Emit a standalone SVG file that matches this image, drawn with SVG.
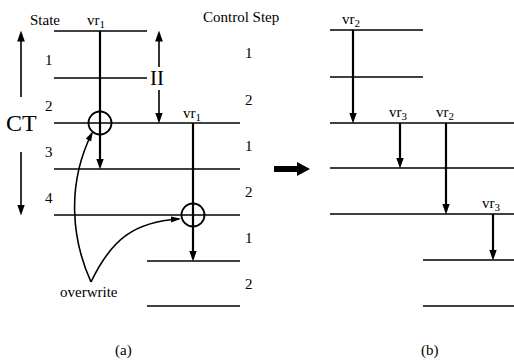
<svg xmlns="http://www.w3.org/2000/svg" width="514" height="362" viewBox="0 0 514 362" font-family="'Liberation Serif', 'DejaVu Serif', serif">
<defs>
<style>
text{font-family:"Liberation Serif","DejaVu Serif",serif;fill:#000}
.t{font-size:15px}
.s{font-size:11px}
.h{stroke:#000;stroke-width:1.3;fill:none}
.v{stroke:#000;stroke-width:2.2;fill:none}
.a{stroke:#000;stroke-width:1.6;fill:none}
.c{stroke:#000;stroke-width:1.8;fill:none}
</style>
<marker id="ah" markerUnits="userSpaceOnUse" markerWidth="11" markerHeight="11" viewBox="0 0 10 10" refX="5" refY="5" orient="auto">
<path d="M0,1.5 L10,5 L0,8.5 z" fill="#000"/>
</marker>
<marker id="ah2" markerUnits="userSpaceOnUse" markerWidth="10" markerHeight="10" viewBox="0 0 10 10" refX="8" refY="5" orient="auto">
<path d="M0,2 L10,5 L0,8 z" fill="#000"/>
</marker>
</defs>
<rect width="514" height="362" fill="#fff"/>

<g id="headers">
<text class="t" x="30" y="25">State</text>
<text class="t" x="203" y="22">Control Step</text>
</g>

<g id="state-labels">
<text class="t" x="45" y="65">1</text>
<text class="t" x="45" y="111">2</text>
<text class="t" x="45" y="157">3</text>
<text class="t" x="45" y="203">4</text>
<text x="6" y="131" style="font-size:24px">CT</text>
</g>

<g id="step-labels">
<text class="t" x="245" y="58">1</text>
<text class="t" x="245" y="105">2</text>
<text class="t" x="245" y="151">1</text>
<text class="t" x="245" y="197">2</text>
<text class="t" x="245" y="243">1</text>
<text class="t" x="245" y="289">2</text>
</g>

<g id="grid-a">
<line class="h" x1="54" y1="31" x2="147" y2="31"/>
<line class="h" x1="54" y1="78" x2="147" y2="78"/>
<line class="h" x1="54" y1="123" x2="240" y2="123"/>
<line class="h" x1="54" y1="169" x2="240" y2="169"/>
<line class="h" x1="54" y1="215" x2="240" y2="215"/>
<line class="h" x1="147" y1="261" x2="240" y2="261"/>
<line class="h" x1="147" y1="306" x2="240" y2="306"/>
</g>

<g id="grid-b">
<line class="h" x1="330" y1="30" x2="423" y2="30"/>
<line class="h" x1="330" y1="77" x2="423" y2="77"/>
<line class="h" x1="330" y1="123" x2="514" y2="123"/>
<line class="h" x1="330" y1="168" x2="514" y2="168"/>
<line class="h" x1="330" y1="214" x2="514" y2="214"/>
<line class="h" x1="423" y1="260" x2="514" y2="260"/>
<line class="h" x1="423" y1="306" x2="514" y2="306"/>
</g>

<g id="vr1-a">
<text class="t" x="87" y="25">vr<tspan class="s" dy="3">1</tspan></text>
<line class="v" x1="100" y1="31" x2="100" y2="164" marker-end="url(#ah)"/>
<circle class="c" cx="100" cy="123" r="11.5"/>
</g>

<g id="vr1-b">
<text class="t" x="183" y="118">vr<tspan class="s" dy="3">1</tspan></text>
<line class="v" x1="193" y1="123" x2="193" y2="256" marker-end="url(#ah)"/>
<circle class="c" cx="193" cy="215" r="11.5"/>
</g>

<g id="vr2-first">
<text class="t" x="342" y="24">vr<tspan class="s" dy="3">2</tspan></text>
<line class="v" x1="353" y1="30" x2="353" y2="118" marker-end="url(#ah)"/>
</g>

<g id="vr3-first">
<text class="t" x="389" y="117">vr<tspan class="s" dy="3">3</tspan></text>
<line class="v" x1="400" y1="123" x2="400" y2="163" marker-end="url(#ah)"/>
</g>

<g id="vr2-second">
<text class="t" x="436" y="117">vr<tspan class="s" dy="3">2</tspan></text>
<line class="v" x1="446" y1="123" x2="446" y2="209" marker-end="url(#ah)"/>
</g>

<g id="vr3-second">
<text class="t" x="482" y="208">vr<tspan class="s" dy="3">3</tspan></text>
<line class="v" x1="493" y1="214" x2="493" y2="255" marker-end="url(#ah)"/>
</g>

<g id="connectors">
<line class="a" x1="21" y1="97" x2="21" y2="36" marker-end="url(#ah)"/>
<line class="a" x1="21" y1="152" x2="21" y2="210" marker-end="url(#ah)"/>
<line class="a" x1="159" y1="67" x2="159" y2="36" marker-end="url(#ah)"/>
<line class="a" x1="159" y1="90" x2="159" y2="118" marker-end="url(#ah)"/>
<path class="a" d="M91,282 C72,240 66,185 92,133" marker-end="url(#ah2)"/>
<path class="a" d="M91,282 C112,238 135,222 179,219" marker-end="url(#ah2)"/>
<path d="M274,166 L297,166 L297,162 L310,169 L297,176 L297,172 L274,172 z" fill="#000"/>
</g>

<g id="other-labels">
<text x="150" y="85" style="font-size:21px">II</text>
<text class="t" x="60" y="297">overwrite</text>
<text class="t" x="115" y="355">(a)</text>
<text class="t" x="421" y="355">(b)</text>
</g>
</svg>
